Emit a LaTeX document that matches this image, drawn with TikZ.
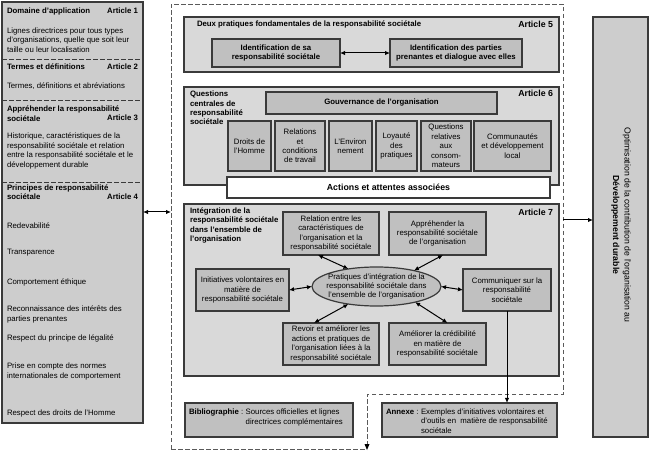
\documentclass[tikz,border=0pt]{standalone}
\usepackage{fontspec}
\setmainfont{Liberation Sans}
\usetikzlibrary{arrows.meta,shapes.geometric}
\definecolor{bd}{HTML}{3A3A3A}
\definecolor{ga}{HTML}{D9D9D9}
\definecolor{gi}{HTML}{C0C0C0}
\definecolor{gl}{HTML}{CDCDCD}
\definecolor{dl}{HTML}{5A5A5A}
\begin{document}
\begin{tikzpicture}[x=1pt,y=-1pt,
 every node/.style={inner sep=0pt, outer sep=0pt, font=\fontsize{7.8}{9.4}\selectfont},
 artbox/.style={draw=bd, fill=ga, line width=1.2pt},
 inbox/.style={draw=bd, fill=gi, line width=1.2pt, align=center},
 colbox/.style={draw=bd, fill=gl, line width=1.2pt},
 lbl/.style={anchor=west, align=left},
 bold/.style={font=\fontsize{7.8}{9.4}\selectfont\bfseries},
 art/.style={anchor=east, font=\fontsize{8.8}{10}\selectfont\bfseries},
 smallart/.style={anchor=east, font=\fontsize{7.8}{9.4}\selectfont\bfseries},
 sep/.style={draw=bd, line width=0.9pt, dash pattern=on 4.5pt off 2.5pt},
 bound/.style={draw=dl, line width=0.9pt, dash pattern=on 4.5pt off 2.5pt},
 arr/.style={draw=black, line width=1pt, -{Latex[length=5pt,width=4.5pt]}},
 darr/.style={draw=black, line width=1pt, {Latex[length=5pt,width=4.5pt]}-{Latex[length=5pt,width=4.5pt]}},
]
\useasboundingbox (0,0) rectangle (651,454);

% ---------- left column ----------
\node[colbox, minimum width=141pt, minimum height=421pt] (left) at (72.5,212.5) {};
\draw[sep] (2,59) -- (143,59);
\draw[sep] (2,100) -- (143,100);
\draw[sep] (2,182) -- (143,182);

\node[lbl, bold] (t1) at (7,11) {Domaine d'application};
\node[smallart] (a1) at (138,11) {Article 1};
\node[lbl] (d1) at (7,40) {Lignes directrices pour tous types\\d'organisations, quelle que soit leur\\taille ou leur localisation};
\node[lbl, bold] (t2) at (7,67) {Termes et définitions};
\node[smallart] (a2) at (138,67) {Article 2};
\node[lbl] (d2) at (7,86) {Termes, définitions et abréviations};
\node[lbl, bold] (t3) at (7,113.5) {Appréhender la responsabilité\\sociétale};
\node[smallart] (a3) at (138,118) {Article 3};
\node[lbl] (d3) at (7,151) {Historique, caractéristiques de la\\responsabilité sociétale et relation\\entre la responsabilité sociétale et le\\développement durable};
\node[lbl, bold] (t4) at (7,192) {Principes de responsabilité\\sociétale};
\node[smallart] (a4) at (138,197) {Article 4};
\node[lbl] (p1) at (7,226) {Redevabilité};
\node[lbl] (p2) at (7,253) {Transparence};
\node[lbl] (p3) at (7,282) {Comportement éthique};
\node[lbl] (p4) at (7,314.5) {Reconnaissance des intérêts des\\parties prenantes};
\node[lbl] (p5) at (7,338) {Respect du principe de légalité};
\node[lbl] (p6) at (7,371.5) {Prise en compte des normes\\internationales de comportement};
\node[lbl] (p7) at (7,413) {Respect des droits de l'Homme};

% ---------- dashed boundary ----------
\draw[bound] (171,449) -- (367,449);
\draw[bound] (171,449) -- (171,4) -- (563,4) -- (563,394) -- (367,394) -- (367,445);
\fill[black] (367,450) -- (364.5,444) -- (369.5,444) -- cycle;
\coordinate (bL) at (171,212);
\coordinate (bR) at (563,220);

% ---------- right box ----------
\node[colbox, minimum width=55pt, minimum height=420pt] (right) at (620.5,227) {};
\node[rotate=-90, align=center, font=\fontsize{8.7}{11.5}\selectfont] (rt) at (621,225)
 {Optimisation de la contribution de l'organisation au\\\textbf{Développement durable}};

\draw[darr] (left.east |- bL) -- (bL);
\draw[arr] (bR) -- (bR -| right.west);

% ---------- Article 5 ----------
\node[artbox, minimum width=375pt, minimum height=55pt] (a5) at (371.5,44.5) {};
\node[lbl, bold] (t5) at (197,24) {Deux pratiques fondamentales de la responsabilité sociétale};
\node[art] (l5) at (553,24) {Article 5};
\node[inbox, bold, minimum width=128pt, minimum height=28pt] (a5l) at (276,53) {Identification de sa\\responsabilité sociétale};
\node[inbox, bold, minimum width=132pt, minimum height=28pt] (a5r) at (456,53) {Identification des parties\\prenantes et dialogue avec elles};
\draw[darr] (a5l.east) -- (a5r.west);

% ---------- Article 6 ----------
\node[artbox, minimum width=375pt, minimum height=98pt] (a6) at (371.5,136) {};
\node[art] (l6) at (553,93) {Article 6};
\node[anchor=north west, align=left, bold] (t6) at (190,91) {Questions\\centrales de\\responsabilité\\sociétale};
\node[inbox, bold, minimum width=231pt, minimum height=22pt] (gov) at (381.5,103) {Gouvernance de l'organisation};
\node[inbox, minimum width=43pt, minimum height=50pt] (q1) at (249.5,146) {Droits de\\l'Homme};
\node[inbox, minimum width=50pt, minimum height=50pt] (q2) at (300,146) {Relations\\et\\conditions\\de travail};
\node[inbox, minimum width=43pt, minimum height=50pt] (q3) at (350.5,146) {L'Environ\\nement};
\node[inbox, minimum width=41pt, minimum height=50pt] (q4) at (396.5,146) {Loyauté\\des\\pratiques};
\node[inbox, minimum width=50pt, minimum height=50pt] (q5) at (446,146) {Questions\\relatives\\aux\\consom-\\mateurs};
\node[inbox, minimum width=77pt, minimum height=50pt] (q6) at (512.5,146) {Communautés\\et développement\\local};
\node[draw=bd, fill=white, line width=1.2pt, minimum width=323pt, minimum height=21pt, font=\fontsize{8.8}{10}\selectfont\bfseries] (act) at (388.5,187.5) {Actions et attentes associées};

% ---------- Article 7 ----------
\node[artbox, minimum width=375pt, minimum height=172pt] (a7) at (371.5,290) {};
\node[art] (l7) at (553,212) {Article 7};
\node[anchor=north west, align=left, bold] (t7) at (190,207.5) {Intégration de la\\responsabilité sociétale\\dans l'ensemble de\\l'organisation};
\node[inbox, minimum width=96pt, minimum height=43pt] (rel) at (331,233.5) {Relation entre les\\caractéristiques de\\l'organisation et la\\responsabilité sociétale};
\node[inbox, minimum width=97pt, minimum height=43pt] (apr) at (437.5,233.5) {Appréhender la\\responsabilité sociétale\\de l'organisation};
\node[ellipse, draw=bd, fill=gi, line width=1.2pt, inner xsep=-5pt, minimum width=129pt, minimum height=39pt, align=center] (ell) at (376.5,286.5) {Pratiques d'intégration de la\\responsabilité sociétale dans\\l'ensemble de l'organisation};
\node[inbox, minimum width=93pt, minimum height=42pt] (ini) at (242.5,290) {Initiatives volontaires en\\matière de\\responsabilité sociétale};
\node[inbox, minimum width=88pt, minimum height=42pt] (com) at (507,290) {Communiquer sur la\\responsabilité\\sociétale};
\node[inbox, minimum width=96pt, minimum height=42pt] (rev) at (331,344) {Revoir et améliorer les\\actions et pratiques de\\l'organisation liées à la\\responsabilité sociétale};
\node[inbox, minimum width=97pt, minimum height=42pt] (aml) at (437.5,344) {Améliorer la crédibilité\\en matière de\\responsabilité sociétale};

\draw[darr] ([xshift=-13pt]rel.south) -- (ell.148);
\draw[darr] ([xshift=5.5pt]apr.south) -- (ell.23);
\draw[darr] (ini.east) -- (ell.west);
\draw[darr] (ell.east) -- (com.west);
\draw[darr] ([xshift=-17pt]rev.north) -- (ell.212);
\draw[darr] ([xshift=10pt]aml.north) -- (ell.338);

% ---------- bottom boxes ----------
\node[inbox, minimum width=168pt, minimum height=34pt] (bib) at (269,420) {};
\node[anchor=west] (bibt) at (189,417.5) {\begin{tabular}{@{}l@{\hspace{2.5pt}}l@{}}\textbf{Bibliographie} :& Sources officielles et lignes\\ & directrices complémentaires\end{tabular}};
\node[inbox, minimum width=175pt, minimum height=34pt] (anx) at (469.5,420) {};
\node[anchor=west] (anxt) at (386,422) {\begin{tabular}{@{}l@{\hspace{2.5pt}}l@{}}\textbf{Annexe} :& Exemples d'initiatives volontaires et\\ & d'outils en\ \ matière de responsabilité\\ & sociétale\end{tabular}};
\draw[arr] (com.south) -- (com.south |- anx.north);
\end{tikzpicture}
\end{document}
